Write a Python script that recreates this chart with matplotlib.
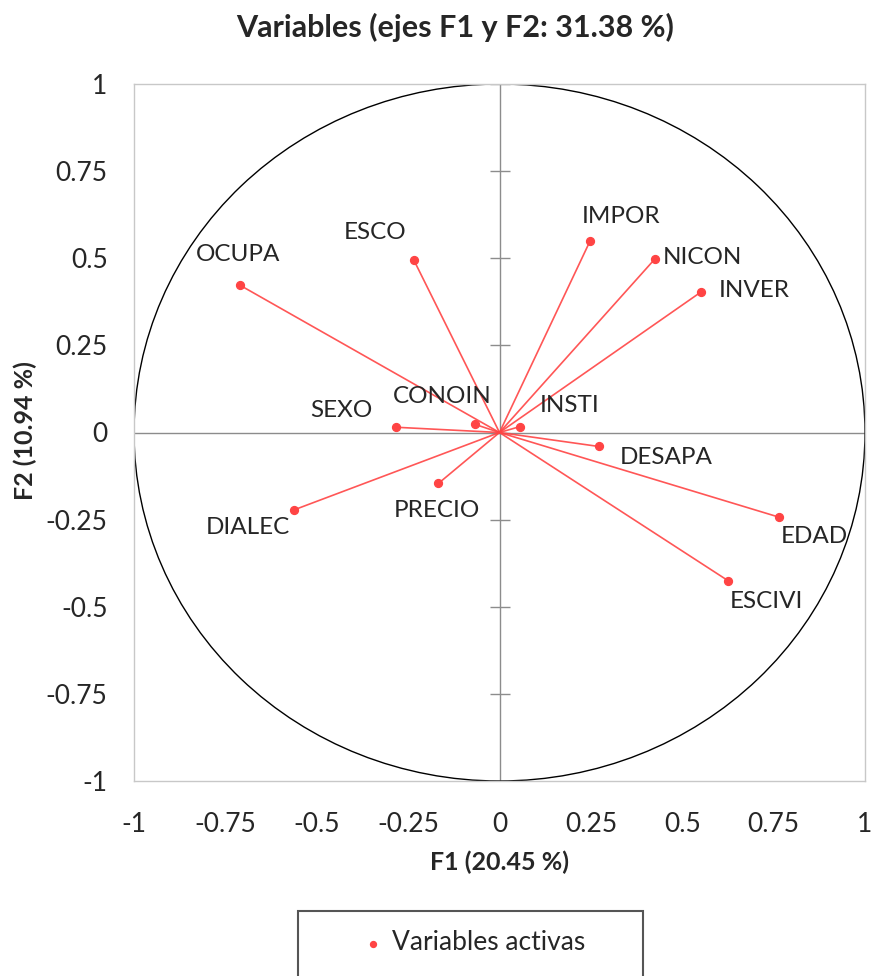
import numpy as np
import matplotlib
matplotlib.use("Agg")
import matplotlib.pyplot as plt
from matplotlib.patches import Circle, Rectangle

# coordenadas de las variables en F1 / F2
variables = ["OCUPA", "ESCO", "IMPOR", "NICON", "INVER", "SEXO", "CONOIN",
             "INSTI", "DESAPA", "PRECIO", "DIALEC", "EDAD", "ESCIVI"]
f1 = [-0.709, -0.234, 0.248, 0.426, 0.551, -0.282, -0.066,
      0.056, 0.271, -0.167, -0.562, 0.765, 0.625]
f2 = [0.422, 0.494, 0.550, 0.499, 0.403, 0.015, 0.023,
      0.017, -0.040, -0.146, -0.222, -0.243, -0.425]
ticks = [-1, -0.75, -0.5, -0.25, 0, 0.25, 0.5, 0.75, 1]
tick_labels = ["-1", "-0.75", "-0.5", "-0.25", "0", "0.25", "0.5", "0.75", "1"]

# desplazamiento de las etiquetas (pixeles)
label_offsets = {
    "OCUPA": (-2, 31), "ESCO": (-39, 28), "IMPOR": (31, 24), "NICON": (47, 1),
    "INVER": (53, 2), "SEXO": (-55, 17), "CONOIN": (-33, 28), "INSTI": (50, 21),
    "DESAPA": (68, -11), "PRECIO": (-2, -27), "DIALEC": (-46, -18),
    "EDAD": (35, -19), "ESCIVI": (39, -21),
}

plt.rcParams["font.family"] = ["Lato", "DejaVu Sans"]
txt_color = "#262626"
red = "#ff4444"

fig = plt.figure(figsize=(8.73, 9.76), dpi=100)
W, H = 873, 976
ax = fig.add_axes([134 / W, 1 - 781 / H, 731 / W, 697 / H])

ax.set_xlim(-1, 1)
ax.set_ylim(-1, 1)

# ejes en cero
ax.axhline(0, color="#8c8c8c", lw=1.0, zorder=1)
ax.axvline(0, color="#8c8c8c", lw=1.0, zorder=1)
ax.plot(np.zeros(len(ticks)), ticks, ls="none", marker="_", ms=14,
        mew=1.0, color="#8c8c8c", zorder=1)

ax.add_patch(Circle((0, 0), 1, fill=False, ec="black", lw=1.0, zorder=2))

for x, y in zip(f1, f2):
    ax.plot([0, x], [0, y], color=red, lw=1.2, alpha=0.9, zorder=3)
ax.scatter(f1, f2, s=32, color=red, zorder=4, label="Variables activas")

for name, x, y in zip(variables, f1, f2):
    dx, dy = label_offsets[name]
    ax.annotate(name, (x, y), xytext=(dx, dy), textcoords="offset pixels",
                ha="center", va="center", fontsize=17.5, color=txt_color)

ax.set_xticks(ticks)
ax.set_xticklabels(tick_labels)
ax.set_yticks(ticks)
ax.set_yticklabels(tick_labels)
ax.tick_params(length=0, labelsize=19, labelcolor=txt_color)
ax.tick_params(axis="x", pad=22)
ax.tick_params(axis="y", pad=19)
for s in ax.spines.values():
    s.set_color("#c8c8c8")
    s.set_linewidth(1.0)

fig.text(500 / W, 1 - 862 / H, "F1 (20.45 %)", ha="center", va="center",
         fontsize=18, fontweight="bold", color=txt_color)
fig.text(25 / W, 1 - 431 / H, "F2 (10.94 %)", ha="center", va="center",
         rotation=90, fontsize=18, fontweight="bold", color=txt_color)

fig.text(455 / W, 1 - 27 / H, "Variables (ejes F1 y F2: 31.38 %)", ha="center",
         va="center", fontsize=22, fontweight="bold", color=txt_color)

# caja de la leyenda (cortada abajo como en el original)
fig.patches.append(Rectangle((298 / W, 1 - 990 / H), 345 / W, 79 / H,
                             transform=fig.transFigure, fill=False,
                             ec="#555555", lw=1.5))
fig.legend(loc="center", bbox_to_anchor=(466 / W, 1 - 943 / H), frameon=False,
           fontsize=19, handletextpad=-0.3, markerscale=0.75,
           labelcolor=txt_color)

fig.savefig("out.png", dpi=100)
